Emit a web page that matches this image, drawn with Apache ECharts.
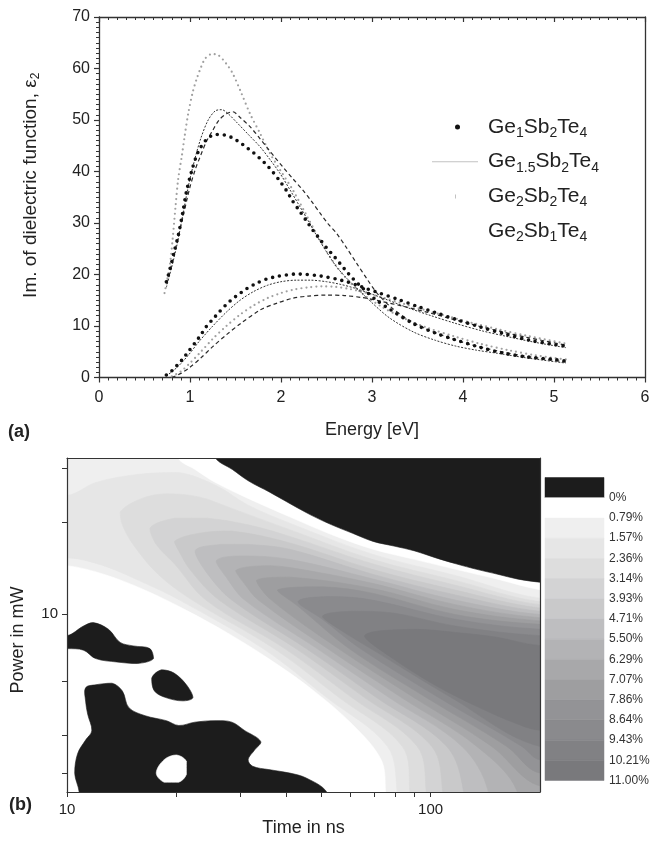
<!DOCTYPE html>
<html><head><meta charset="utf-8">
<script src="https://cdn.jsdelivr.net/npm/echarts@6/dist/echarts.min.js"></script>
<style>html,body{margin:0;padding:0;background:#fff}#c{width:650px;height:859px}</style>
</head><body><div id="c"></div><script>
const FONT = 'Liberation Sans, Arial, Helvetica, sans-serif';

// ---------- panel (a): Im(eps) vs energy ----------
const compositions = ['Ge1Sb2Te4', 'Ge1.5Sb2Te4', 'Ge2Sb2Te4', 'Ge2Sb1Te4'];
const compositionLabels = [
  '{m|Ge}{s|1}{m|Sb}{s|2}{m|Te}{s|4}',
  '{m|Ge}{s|1.5}{m|Sb}{s|2}{m|Te}{s|4}',
  '{m|Ge}{s|2}{m|Sb}{s|2}{m|Te}{s|4}',
  '{m|Ge}{s|2}{m|Sb}{s|1}{m|Te}{s|4}'
];
// [energy eV, eps2]
const ge1Sb2Te4Cryst = [[0.74,18.6],[0.78,21],[0.82,24],[0.87,27.5],[0.92,32],[0.96,36],[1.02,40.2],[1.09,43.8],[1.18,46.2],[1.26,47.1],[1.33,47.2],[1.40,47],[1.47,46.5],[1.55,45.6],[1.62,44.7],[1.70,43.6],[1.77,42.5],[1.84,41.3],[1.91,39.9],[1.98,38.3],[2.06,36.3],[2.13,34.2],[2.21,32.2],[2.28,30.4],[2.35,28.6],[2.43,26.8],[2.50,25.2],[2.58,23.6],[2.65,22.1],[2.72,20.6],[2.79,19.2],[2.87,17.8],[2.95,16.5],[3.05,15],[3.20,13.2],[3.45,10.5],[3.70,8.6],[3.90,7.4],[4.20,5.8],[4.45,4.7],[4.70,4.0],[5.00,3.5],[5.13,3.2]];
const ge1Sb2Te4Amor = [[0.74,0.5],[0.80,1.3],[0.86,2.4],[0.92,3.6],[0.98,5],[1.05,6.6],[1.12,8.3],[1.18,9.9],[1.25,11.3],[1.32,12.7],[1.40,14.2],[1.50,15.7],[1.62,17.2],[1.73,18.3],[1.84,19.1],[1.95,19.6],[2.06,19.9],[2.17,20.1],[2.28,20.0],[2.40,19.8],[2.50,19.5],[2.61,19.1],[2.72,18.6],[2.84,17.9],[2.95,17.2],[3.08,16.4],[3.28,15.2],[3.50,13.8],[3.70,12.6],[3.92,11.3],[4.19,9.8],[4.47,8.4],[4.74,7.2],[4.97,6.5],[5.13,6.1]];
const ge15Sb2Te4Cryst = [[0.74,17.5],[0.80,21.5],[0.86,26],[0.92,31.5],[0.98,37],[1.05,42.2],[1.12,46.5],[1.20,50],[1.28,51.8],[1.35,52],[1.42,51.2],[1.51,49.6],[1.64,47.2],[1.77,44.8],[1.88,42.3],[1.99,39.6],[2.10,36.4],[2.21,33.1],[2.30,30.4],[2.39,27.6],[2.50,24.4],[2.61,21.5],[2.72,19.3],[2.83,17.4],[2.97,15],[3.19,11.6],[3.46,8.8],[3.70,7.2],[3.92,6.1],[4.15,5.3],[4.38,4.7],[4.70,3.8],[5.13,2.8]];
const ge15Sb2Te4Amor = [[0.74,0.3],[0.86,2],[0.98,4.3],[1.10,7],[1.24,9.8],[1.40,12.7],[1.55,15],[1.70,16.7],[1.85,17.9],[2.00,18.6],[2.17,18.9],[2.32,18.9],[2.50,18.6],[2.65,18.1],[2.80,17.4],[2.95,16.5],[3.15,15.2],[3.40,13.5],[3.65,12],[3.90,10.6],[4.20,9.1],[4.50,7.9],[4.80,6.8],[5.13,5.8]];
const ge2Sb2Te4Cryst = [[0.72,16.4],[0.78,22],[0.81,27],[0.84,33],[0.87,38.5],[0.91,43],[0.94,46.7],[0.98,51.2],[1.03,55.4],[1.07,57.8],[1.12,60.2],[1.17,62],[1.24,62.8],[1.31,62.6],[1.40,60.9],[1.47,59],[1.56,55.4],[1.66,51.2],[1.77,47.4],[1.88,43.5],[1.99,40.3],[2.13,36.4],[2.28,31.5],[2.45,26],[2.60,21.8],[2.75,18.6],[2.90,16.2],[3.10,13.8],[3.35,11.5],[3.60,9.7],[3.90,8],[4.20,6.5],[4.50,5.3],[4.80,4.3],[5.13,3.5]];
const ge2Sb2Te4Amor = [[0.80,0.2],[0.90,1.2],[1.00,2.8],[1.12,5],[1.25,7.5],[1.40,10],[1.55,12.2],[1.70,14],[1.85,15.4],[2.00,16.4],[2.15,17.1],[2.30,17.5],[2.45,17.7],[2.60,17.6],[2.75,17.2],[2.90,16.6],[3.10,15.6],[3.35,14.3],[3.60,13],[3.85,11.8],[4.10,10.6],[4.40,9.3],[4.70,8.1],[5.13,6.6]];
const ge2Sb1Te4Cryst = [[0.74,18.3],[0.80,22],[0.86,26.5],[0.92,31],[1.00,37],[1.06,40.5],[1.11,42.8],[1.18,45.8],[1.25,48],[1.32,50],[1.40,51.2],[1.47,51.6],[1.55,50.5],[1.66,48.7],[1.75,46.8],[1.84,44.8],[1.93,42.8],[2.02,40.9],[2.13,38.6],[2.24,36.4],[2.34,34.1],[2.43,31.9],[2.52,29.8],[2.61,28],[2.72,25.2],[2.83,22.2],[2.95,19],[3.05,16.5],[3.20,13.8],[3.40,11.2],[3.60,9.4],[3.85,7.7],[4.10,6.3],[4.40,5.1],[4.70,4.1],[5.13,3.0]];
const ge2Sb1Te4Amor = [[0.80,0],[0.90,0.8],[1.00,2],[1.12,3.8],[1.25,6],[1.40,8.3],[1.55,10.4],[1.77,13.1],[1.95,14.4],[2.13,15.4],[2.30,15.8],[2.50,16],[2.70,15.9],[2.90,15.5],[3.10,14.8],[3.35,13.8],[3.60,12.7],[3.85,11.5],[4.10,10.3],[4.40,9],[4.70,7.8],[5.13,6.3]];

// ---------- panel (b): contour map (time ns, power mW) ----------
const timeRange = [10, 200];
const powerRange = [2.6, 32.5];
const timeTicks = [10, 20, 30, 40, 50, 60, 70, 80, 90, 100, 200];
const powerTicks = [3, 4, 6, 10, 20, 30];
// colour scale edges (%) and their labels
const scaleEdges = [-0.79, 0, 0.79, 1.57, 2.36, 3.14, 3.93, 4.71, 5.50, 6.29, 7.07, 7.86, 8.64, 9.43, 10.21, 11.00];
const scaleLabels = ['0%', '0.79%', '1.57%', '2.36%', '3.14%', '3.93%', '4.71%', '5.50%', '6.29%', '7.07%', '7.86%', '8.64%', '9.43%', '10.21%', '11.00%'];
// contour regions [time, power]; region with value >= level
const contour157 = [[5,24.5],[10,24.5],[12.0,27.0],[15.6,28.7],[20.3,29.1],[25.7,26.4],[31.5,22.75],[41,19.86],[69.2,15.7],[117,13.37],[200,11.26],[400,11.0],[400,1.5],[82,1.5],[80.9,2.6],[76.1,3.67],[51.8,5.31],[34.6,7.69],[20.4,11.1],[16.4,12.6],[12.6,14.4],[10,15.3],[5,15.3]];
const contour236 = [[14,21.6],[16,23.9],[18.75,24.8],[23.1,24.2],[28.4,22.2],[41,18.9],[69.2,15.1],[117,12.88],[200,10.97],[400,10.7],[400,1.5],[89,1.5],[87.7,2.6],[83.6,3.67],[56,5.31],[37.1,7.69],[22.1,11.1],[17.8,13.5],[15.2,16.9],[14.2,19.6]];
const contour314 = [[16.9,19.1],[19.75,20.6],[24.4,20.6],[31.5,19.6],[41,17.96],[69.2,14.6],[117,12.42],[200,10.72],[400,10.45],[400,1.5],[99,1.5],[97.3,2.6],[91.9,3.67],[60.7,5.31],[39.7,7.69],[24.1,11.1],[19.75,14.6],[17.6,16.9]];
const contour393 = [[19.75,17.3],[23.1,18.4],[28.4,18.7],[41,17.1],[69.2,14.0],[117,11.97],[200,10.46],[400,10.2],[400,1.5],[110,1.5],[108,2.6],[100.8,3.67],[65.8,5.31],[42.6,7.69],[26.2,11.1],[21.9,13.87],[20.3,16.1]];
const contour471 = [[22.5,16.1],[26.4,16.9],[31.5,16.9],[41,16.3],[69.2,13.5],[117,11.54],[200,10.2],[400,9.95],[400,1.5],[126,1.5],[123.3,2.6],[110.8,3.67],[71,5.31],[45.5,7.69],[28.4,11.1],[24.4,13.5]];
const contour550 = [[25.7,14.93],[29.9,15.5],[41,15.1],[69.2,13.03],[117,11.1],[200,9.95],[400,9.7],[400,1.5],[147,1.5],[144.2,2.6],[122,3.67],[76.9,5.31],[48.7,7.69],[30.8,11.1],[27.4,13.2]];
const contour629 = [[29.1,13.87],[34.9,14.4],[41,14.2],[69.2,12.6],[117,10.72],[200,9.71],[400,9.5],[400,1.5],[178,1.5],[173.4,2.6],[134,3.67],[83.2,5.31],[52.1,7.69],[33.6,11.1],[30.7,12.6]];
const contour707 = [[33.2,12.88],[41,13.2],[69.2,12.12],[117,10.33],[200,9.48],[400,9.3],[400,2.6],[200,2.72],[147.3,3.67],[90,5.31],[55.8,7.69],[36.5,11.1]];
const contour786 = [[37.9,11.97],[50.4,12.27],[69.2,11.69],[117,9.95],[200,9.24],[400,9.1],[400,3.0],[200,3.0],[162,3.67],[97.3,5.31],[59.7,7.69],[43.2,10.59]];
const contour864 = [[43.2,10.97],[53.2,11.4],[69.2,11.1],[117,9.6],[200,8.9],[400,8.8],[400,3.3],[200,3.32],[178.4,3.67],[105.3,5.31],[64.1,7.69],[50.4,9.6]];
const contour943 = [[50.4,9.83],[60.7,10.2],[78.8,10.07],[117,9.12],[200,8.48],[400,8.4],[400,3.67],[200,3.67],[114,5.31],[68.5,7.69],[56.1,8.9]];
const contour1021 = [[65.8,8.48],[90,8.9],[117,8.69],[152,8.38],[200,7.87],[400,7.8],[400,4.15],[200,4.15],[173.4,4.35],[133.4,4.98],[102.5,5.85],[78.8,7.13]];
const lowTop = [[19.5,40],[20.2,32.5],[22.5,29.8],[25.6,27.0],[31.6,23.9],[41.1,20.8],[53.5,18.2],[69.5,16.3],[90.4,15.1],[117.5,14.0],[152.8,13.0],[200,12.0],[260,11.6],[260,40]];
const zeroTop = [[24.2,40],[25.6,32.5],[28.5,29.8],[31.6,27.3],[36.1,25.1],[41.1,23.0],[46.9,21.1],[53.5,19.6],[61.0,18.4],[69.5,17.3],[79.3,16.7],[90.4,16.1],[103,15.3],[117.5,14.6],[134,14.0],[152.8,13.5],[174.2,13.0],[200,12.7],[260,12.3],[260,40]];
const lowBottom = [[7,14.7],[10,14.4],[12.6,13.5],[16.4,11.96],[21.3,10.27],[27.7,8.64],[36.1,7.09],[46.9,5.68],[61.0,4.33],[73.2,3.31],[75.2,2.6],[75.5,2.0],[7,2.0]];
const zeroBlobA = [[8,8.48],[10,8.48],[11.1,9.12],[11.8,9.36],[13.0,8.9],[14,8.06],[15.2,7.85],[16.9,7.69],[17.3,7.13],[15.6,6.87],[13.7,6.95],[12.0,7.13],[11.1,7.6],[10,7.69],[8,7.69]];
const zeroBlobB = [[17.1,6.15],[18.2,6.55],[19.7,6.39],[21.3,5.85],[22.2,5.31],[20.8,5.18],[18.7,5.31],[17.4,5.58]];
const zeroBlobC = [[11.25,5.72],[12.0,5.85],[13.3,5.92],[14.2,5.58],[14.8,4.92],[16.4,4.63],[18.75,4.46],[20.3,4.3],[22.5,4.41],[25.7,4.46],[28.4,4.41],[30.7,4.15],[34.1,3.81],[32.8,3.57],[31.5,3.32],[32.4,3.16],[35.9,3.08],[41,3.0],[45.5,2.89],[51.8,2.6],[53,2.2],[10.8,2.2],[10.8,2.6],[10.5,3.0],[10.7,3.48],[11.25,3.85],[11.7,4.13],[11.4,4.68],[11.25,5.17]];
const lowHoleC = [[17.6,3.0],[18.5,3.32],[20.0,3.44],[21.3,3.28],[21.3,2.97],[20.3,2.8],[18.5,2.8]];
const regions = [contour157, contour236, contour314, contour393, contour471, contour550, contour629, contour707, contour786, contour864, contour943, contour1021, lowTop, zeroTop, lowBottom, zeroBlobA, zeroBlobB, zeroBlobC, lowHoleC];
const regionBand = [3, 4, 5, 6, 7, 8, 9, 10, 11, 12, 13, 14, 1, 0, 1, 0, 0, 0, 1];

// ---------- styles ----------
const bandColors = ['#1c1c1c', '#ffffff', '#efefef', '#e6e6e6', '#dddddd', '#d3d3d4', '#c9c9ca', '#bebec0', '#b3b3b5', '#a8a8aa', '#9e9ea0', '#939396', '#8a8a8d', '#818184', '#79797c'];
const curveStyle = {
  'Ge1Sb2Te4':   {color: '#111', width: 3.6, type: [0, 7], cap: 'round'},
  'Ge1.5Sb2Te4': {color: '#333', width: 1, type: [2, 1.5]},
  'Ge2Sb2Te4':   {color: '#a0a0a0', width: 2.2, type: [0, 5], cap: 'round'},
  'Ge2Sb1Te4':   {color: '#2a2a2a', width: 1.2, type: [4, 3]}
};
const curves = [
  ['Ge2Sb2Te4', ge2Sb2Te4Cryst], ['Ge2Sb2Te4', ge2Sb2Te4Amor],
  ['Ge2Sb1Te4', ge2Sb1Te4Cryst], ['Ge2Sb1Te4', ge2Sb1Te4Amor],
  ['Ge1.5Sb2Te4', ge15Sb2Te4Cryst], ['Ge1.5Sb2Te4', ge15Sb2Te4Amor],
  ['Ge1Sb2Te4', ge1Sb2Te4Cryst], ['Ge1Sb2Te4', ge1Sb2Te4Amor]
];

const axisCol = '#333';
const txt = {fontFamily: FONT, color: '#222'};

const lineSeries = curves.map(([name, data], i) => ({
  type: 'line', name, data, xAxisIndex: 0, yAxisIndex: 0,
  showSymbol: false, smooth: 0.3, silent: true, z: 3 + i,
  lineStyle: Object.assign({}, curveStyle[name])
}));

const frameAxis = {axisLine: {show: true, onZero: false, lineStyle: {color: axisCol, width: 1.2}},
  axisTick: {show: false}, axisLabel: {show: false}, splitLine: {show: false}, z: 5};

const chart = echarts.init(document.getElementById('c'), null, {renderer: 'canvas'});
chart.setOption({
  animation: false,
  backgroundColor: '#fff',
  textStyle: {fontFamily: FONT},
  grid: [
    {left: 99, top: 17, width: 546, height: 360.5, outerBoundsMode: 'none'},
    {left: 67, top: 458, width: 473, height: 334, show: true, backgroundColor: bandColors[2], borderWidth: 0, outerBoundsMode: 'none'},
    {left: 545, top: 477.5, width: 59, height: 303, outerBoundsMode: 'none'}
  ],
  legend: {
    orient: 'vertical', left: 432, top: 114, itemWidth: 51, itemHeight: 5, itemGap: 8.7,
    selectedMode: false, padding: 0,
    itemStyle: {borderWidth: 0},
    data: [
      {name: 'Ge1Sb2Te4', icon: 'circle', itemStyle: {color: '#111', borderWidth: 0}},
      {name: 'Ge1.5Sb2Te4', icon: 'path://M0,0L0.01,0L0.01,0.01Z M0,2H46V3H0Z M51,5L50.99,5L50.99,4.99Z', itemStyle: {color: '#c2c2c2', borderWidth: 0}},
      {name: 'Ge2Sb2Te4', icon: 'path://M0,0L0.01,0L0.01,0.01Z M23,0.5H24V4.5H23Z M51,5L50.99,5L50.99,4.99Z', itemStyle: {color: '#c2c2c2', borderWidth: 0}},
      {name: 'Ge2Sb1Te4', icon: 'rect', itemStyle: {color: 'rgba(0,0,0,0)', borderWidth: 0}}
    ],
    formatter: name => compositionLabels[compositions.indexOf(name)],
    textStyle: {
      fontFamily: FONT, color: '#222',
      rich: {
        m: {fontSize: 21, lineHeight: 26, fontFamily: FONT, color: '#222', verticalAlign: 'middle'},
        s: {fontSize: 14, lineHeight: 14, padding: [12, 0, 0, 0], fontFamily: FONT, color: '#222', verticalAlign: 'middle'}
      }
    }
  },
  xAxis: [
    {gridIndex: 0, type: 'value', min: 0, max: 6, interval: 1,
     axisLine: {onZero: false, lineStyle: {color: axisCol, width: 1.3}},
     axisTick: {length: 5, lineStyle: {color: axisCol, width: 1.2}},
     minorTick: {show: true, splitNumber: 10, length: 3, lineStyle: {color: axisCol, width: 1}},
     splitLine: {show: false}, minorSplitLine: {show: false},
     axisLabel: Object.assign({fontSize: 16, margin: 12}, txt),
     name: 'Energy [eV]', nameLocation: 'middle', nameGap: 44,
     nameTextStyle: Object.assign({fontSize: 18}, txt)},
    {gridIndex: 0, type: 'value', position: 'top', min: 0, max: 6, interval: 1,
     axisLine: {onZero: false, lineStyle: {color: axisCol, width: 1.3}},
     axisTick: {inside: true, length: 5, lineStyle: {color: axisCol, width: 1.2}},
     minorTick: {show: true, splitNumber: 10, length: 3, lineStyle: {color: axisCol}},
     splitLine: {show: false}, axisLabel: {show: false}},
    {gridIndex: 1, type: 'log', logBase: 10, min: timeRange[0], max: timeRange[1], z: 5,
     axisLine: {onZero: false, lineStyle: {color: axisCol, width: 1.2}},
     axisTick: {length: 5, customValues: timeTicks, lineStyle: {color: axisCol}},
     splitLine: {show: false},
     axisLabel: Object.assign({fontSize: 15, margin: 10, showMaxLabel: false}, txt),
     name: 'Time in ns', nameLocation: 'middle', nameGap: 27,
     nameTextStyle: Object.assign({fontSize: 18}, txt)},
    {gridIndex: 2, type: 'value', min: 0, max: 1, show: false},
    Object.assign({gridIndex: 1, type: 'log', logBase: 10, position: 'top', min: timeRange[0], max: timeRange[1]}, frameAxis)
  ],
  yAxis: [
    {gridIndex: 0, type: 'value', min: 0, max: 70, interval: 10,
     axisLine: {show: true, onZero: false, lineStyle: {color: axisCol, width: 1.3}},
     axisTick: {show: true, length: 5, lineStyle: {color: axisCol, width: 1.2}},
     minorTick: {show: true, splitNumber: 10, length: 3, lineStyle: {color: axisCol}},
     splitLine: {show: false},
     axisLabel: Object.assign({fontSize: 16, margin: 9}, txt),
     name: '{m|Im. of dielectric function, ε}{s|2}', nameLocation: 'middle', nameGap: 57,
     nameTextStyle: Object.assign({fontSize: 19, padding: [0, 0, 0, 24], rich: {
       m: {fontSize: 19, fontFamily: FONT, color: '#222', lineHeight: 22, verticalAlign: 'middle'},
       s: {fontSize: 12, fontFamily: FONT, color: '#222', lineHeight: 12, padding: [10, 0, 0, 0], verticalAlign: 'middle'}}}, txt)},
    {gridIndex: 0, type: 'value', position: 'right', min: 0, max: 70, interval: 10,
     axisLine: {show: true, onZero: false, lineStyle: {color: axisCol, width: 1.3}},
     axisTick: {show: false}, axisLabel: {show: false}, splitLine: {show: false}},
    {gridIndex: 1, type: 'log', logBase: 10, min: powerRange[0], max: powerRange[1], z: 5,
     axisLine: {show: true, onZero: false, lineStyle: {color: axisCol, width: 1.2}},
     axisTick: {show: true, length: 5, customValues: powerTicks, lineStyle: {color: axisCol}},
     splitLine: {show: false},
     axisLabel: Object.assign({fontSize: 15, margin: 9, showMinLabel: false, showMaxLabel: false}, txt),
     name: 'Power in mW', nameLocation: 'middle', nameGap: 40,
     nameTextStyle: Object.assign({fontSize: 18, padding: [0, 30, 0, 0]}, txt)},
    {gridIndex: 2, type: 'value', position: 'right', inverse: true, min: scaleEdges[0], max: scaleEdges[scaleEdges.length - 1],
     axisLine: {show: false}, axisTick: {show: false}, splitLine: {show: false},
     axisLabel: {customValues: scaleEdges.slice(1), fontSize: 12, color: '#333', fontFamily: FONT, margin: 5,
       formatter: v => {
         let best = 1;
         scaleEdges.forEach((e, i) => { if (i > 0 && Math.abs(e - v) < Math.abs(scaleEdges[best] - v)) best = i; });
         return scaleLabels[best - 1];
       }}},
    Object.assign({gridIndex: 1, type: 'log', logBase: 10, position: 'right', min: powerRange[0], max: powerRange[1]}, frameAxis)
  ],
  graphic: [
    {type: 'text', left: 8, top: 423, style: {text: '(a)', font: 'bold 18px ' + FONT, fill: '#222'}},
    {type: 'text', left: 9, top: 796, style: {text: '(b)', font: 'bold 18px ' + FONT, fill: '#222'}}
  ],
  series: lineSeries.concat([
    {type: 'custom', name: 'map', xAxisIndex: 2, yAxisIndex: 2, clip: true, silent: true, z: 1,
     data: regions.map((r, i) => [r[0][0], r[0][1], i]),
     renderItem: (params, api) => {
       const i = api.value(2);
       const col = bandColors[regionBand[i]];
       const pts = regions[i].map(p => api.coord(p));
       return {type: 'polygon', shape: {points: pts, smooth: 0.35, smoothConstraint: [pts[0], pts[0]]},
               style: {fill: col, stroke: col, lineWidth: 0.6}};
     }},
    {type: 'custom', name: 'scale', xAxisIndex: 3, yAxisIndex: 3, silent: true, z: 2,
     data: scaleEdges.slice(0, -1).map((lo, i) => [0, lo, scaleEdges[i + 1], i]),
     renderItem: (params, api) => {
       const a = api.coord([0, api.value(1)]);
       const b = api.coord([1, api.value(2)]);
       const col = bandColors[api.value(3)];
       return {type: 'rect', shape: {x: a[0], y: Math.min(a[1], b[1]), width: b[0] - a[0], height: Math.abs(b[1] - a[1])},
               style: {fill: col, stroke: col, lineWidth: 0.5}};
     }}
  ])
});
</script></body></html>
